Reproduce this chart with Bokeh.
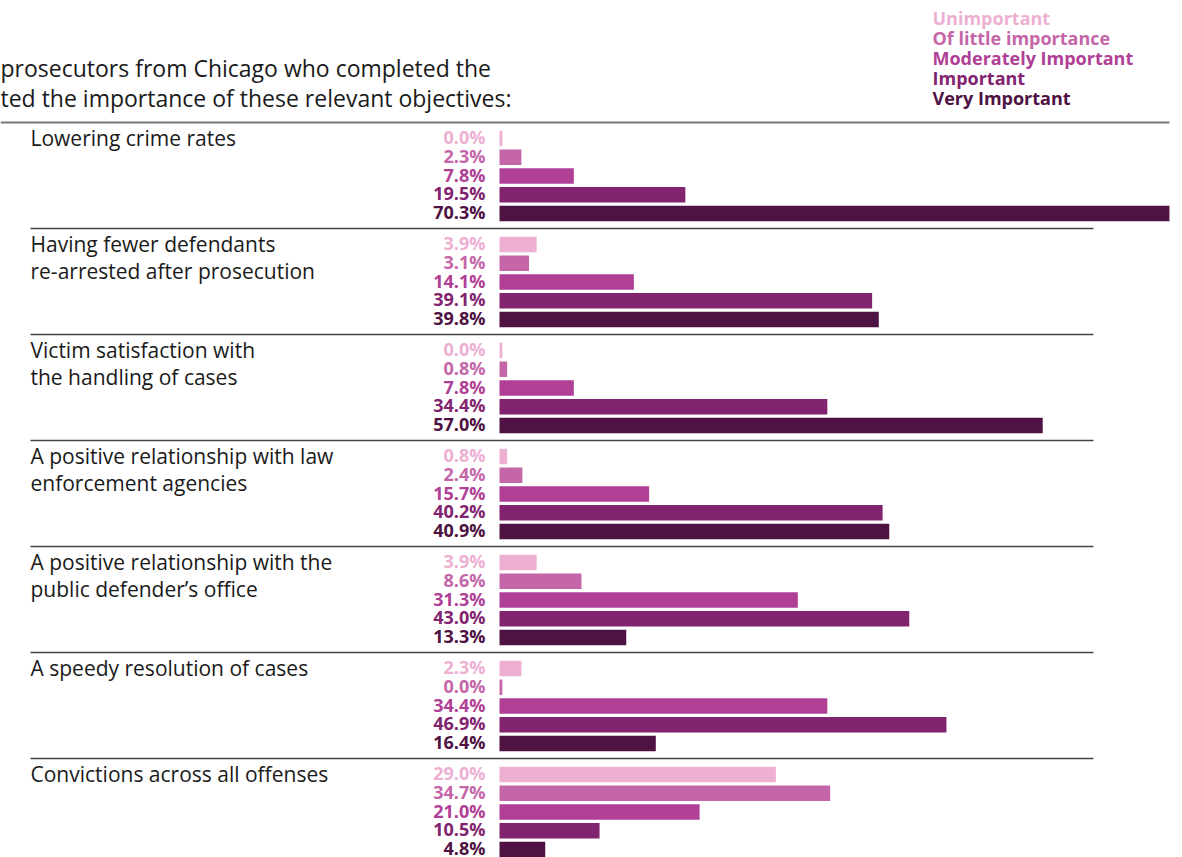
from bokeh.plotting import figure
from bokeh.models import Range1d
from bokeh.core.properties import value
from bokeh.embed import file_html
from bokeh.resources import INLINE

# ---------------- data ----------------
categories = [
    "Lowering crime rates",
    "Having fewer defendants\nre-arrested after prosecution",
    "Victim satisfaction with\nthe handling of cases",
    "A positive relationship with law\nenforcement agencies",
    "A positive relationship with the\npublic defender\u2019s office",
    "A speedy resolution of cases",
    "Convictions across all offenses",
]
series = ["Unimportant", "Of little importance", "Moderately Important",
          "Important", "Very Important"]
unimportant = [0.0, 3.9, 0.0, 0.8, 3.9, 2.3, 29.0]
little = [2.3, 3.1, 0.8, 2.4, 8.6, 0.0, 34.7]
moderate = [7.8, 14.1, 7.8, 15.7, 31.3, 34.4, 21.0]
important = [19.5, 39.1, 34.4, 40.2, 43.0, 46.9, 10.5]
very = [70.3, 39.8, 57.0, 40.9, 13.3, 16.4, 4.8]
title_lines = ["prosecutors from Chicago who completed the",
               "ted the importance of these relevant objectives:"]

colors = ["#EDB0D3", "#C466A8", "#B04096", "#82236F", "#4E1243"]
values_by_series = [unimportant, little, moderate, important, very]

# ---------------- layout ----------------
W, H = 1182, 857
OFF = 0
X0_PX = 499                  # page px of value 0
PX_PER = 9.53                # px per percent
FONT = "Open Sans"


def xd(px):                  # page px -> data x
    return (px - X0_PX) / PX_PER


def yd(px):                  # page px -> data y (flipped range in px)
    return px - OFF


p = figure(width=W, height=H, output_backend="svg", toolbar_location=None,
           x_range=Range1d(xd(OFF), xd(OFF + W)),
           y_range=Range1d(H, 0), min_border=0,
           outline_line_color=None, background_fill_color="white",
           border_fill_color="white")
p.axis.visible = False
p.grid.visible = False

GROUP_TOP = 122
GROUP_STEP = 106
BAR_OFF = 16
BAR_STEP = 18.75
BAR_H = 15.5
MIN_W = 0.3

bar_left, bar_right, bar_top, bar_bot, bar_col = [], [], [], [], []
lab_x, lab_y, lab_t, lab_c = [], [], [], []
for g in range(len(categories)):
    gy = GROUP_TOP + GROUP_STEP * g
    for s in range(len(series)):
        v = values_by_series[s][g]
        cy = gy + BAR_OFF + BAR_STEP * s
        bar_left.append(0)
        bar_right.append(max(v, MIN_W))
        bar_top.append(yd(cy - BAR_H / 2))
        bar_bot.append(yd(cy + BAR_H / 2))
        bar_col.append(colors[s])
        lab_x.append(xd(485))
        lab_y.append(yd(cy - 1.5))
        lab_t.append(f"{v:.1f}%")
        lab_c.append(colors[s])

p.quad(left=bar_left, right=bar_right, top=bar_top, bottom=bar_bot,
       fill_color=bar_col, line_color=None)

p.text(x=lab_x, y=lab_y, text=lab_t, text_color=lab_c,
       text_font=value(FONT), text_font_style="bold",
       text_font_size="18px", text_align="right", text_baseline="middle")

# category labels
cx, cy_, ct = [], [], []
for g, cat in enumerate(categories):
    gy = GROUP_TOP + GROUP_STEP * g
    for j, line in enumerate(cat.split("\n")):
        cx.append(xd(30))
        cy_.append(yd(gy + BAR_OFF - 1 + 27 * j))
        ct.append(line)
p.text(x=cx, y=cy_, text=ct, text_color="#1a1a1a",
       text_font=value(FONT), text_font_size="21px",
       text_align="left", text_baseline="middle")

# separator lines
p.segment(x0=[xd(0)], x1=[xd(1169)], y0=[yd(GROUP_TOP)], y1=[yd(GROUP_TOP)],
          line_color="#777777", line_width=2)
sy = [yd(GROUP_TOP + GROUP_STEP * g) for g in range(1, len(categories))]
p.segment(x0=[xd(30)] * len(sy), x1=[xd(1093)] * len(sy), y0=sy, y1=sy,
          line_color="#444444", line_width=1.3)

# title
p.text(x=[xd(0), xd(0)], y=[yd(67), yd(97)], text=title_lines,
       text_color="#1a1a1a", text_font=value(FONT), text_font_size="23px",
       text_align="left", text_baseline="middle")

# legend
p.text(x=[xd(932)] * 5, y=[yd(17.5 + 20 * i) for i in range(5)], text=series,
       text_color=colors, text_font=value(FONT), text_font_style="bold",
       text_font_size="18px", text_align="left", text_baseline="middle")

open("out.html", "w").write(file_html(p, INLINE))
